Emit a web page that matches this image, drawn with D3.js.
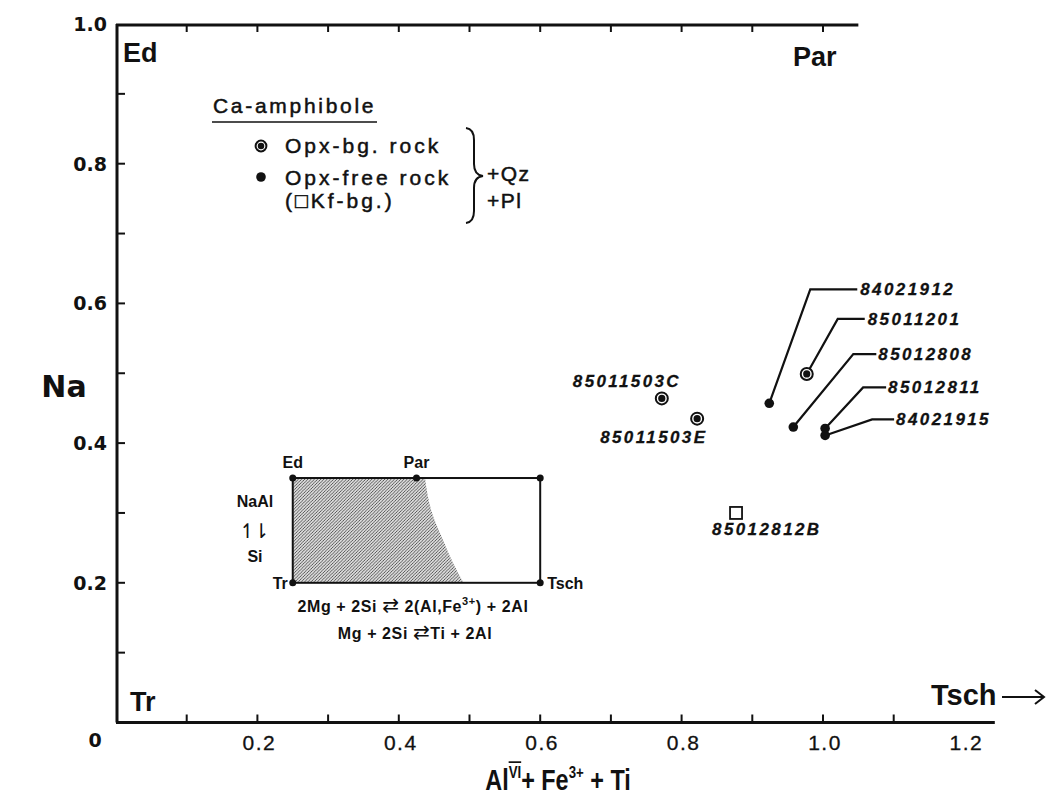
<!DOCTYPE html>
<html>
<head>
<meta charset="utf-8">
<script src="https://cdn.jsdelivr.net/npm/d3@7"></script>
<style>
  body { margin:0; background:#fff; }
  svg text { fill:#111; }
</style>
</head>
<body>
<div id="chart"></div>
<script>
"use strict";

// samples
var sample_ids = ["85011503C","85011503E","84021912","85011201","85012808","85012811","84021915","85012812B"];
var alvi_fe_ti = [0.772, 0.822, 0.924, 0.977, 0.958, 1.003, 1.003, 0.877];
var na_values  = [0.464, 0.435, 0.457, 0.499, 0.423, 0.421, 0.411, 0.300];
var rock_types = ["opx","opx","free","opx","free","free","free","kf"];

var x_tick_labels = [0.2, 0.4, 0.6, 0.8, 1.0, 1.2];
var y_tick_labels = [0.2, 0.4, 0.6, 0.8, 1.0];
var x_minor = [0.1,0.2,0.3,0.4,0.5,0.6,0.7,0.8,0.9,1.0,1.1];
var top_minor = [0.1,0.2,0.3,0.4,0.5,0.6,0.7,0.8,0.9,1.0];
var y_minor = [0.1,0.2,0.3,0.4,0.5,0.6,0.7,0.8,0.9];

// inset (schematic) drawn in the same data space
var inset_x = [0.25, 0.6];
var inset_y = [0.2, 0.35];
var inset_par_x = 0.425;
var shade_edge_x = [0.437, 0.447, 0.4625, 0.4767, 0.4908];
var shade_edge_y = [0.350, 0.300, 0.2613, 0.2284, 0.2012];

var w = 1046, h = 796;

var x = d3.scaleLinear().domain([0, 1]).range([116, 823]);
var y = d3.scaleLinear().domain([0, 1]).range([722.5, 24]);

var svg = d3.select("#chart")
    .append("svg")
    .attr("width", w)
    .attr("height", h);

var defs = svg.append("defs");
var pat = defs.append("pattern")
    .attr("id", "hatch")
    .attr("patternUnits", "userSpaceOnUse")
    .attr("width", 3.2)
    .attr("height", 3.2);
pat.append("rect").attr("width", 3.2).attr("height", 3.2).attr("fill", "#dadada");
pat.append("path")
    .attr("d", "M-0.8,0.8 l1.6,-1.6 M0,3.2 l3.2,-3.2 M2.4,4 l1.6,-1.6")
    .attr("stroke", "#3a3a3a")
    .attr("stroke-width", 0.8);

function draw_axes(){
    var g = svg.append("g");

    // frame
    g.append("line").attr("x1", x(0)).attr("x2", x(1.243)).attr("y1", y(0)).attr("y2", y(0))
        .attr("stroke", "#111").attr("stroke-width", 3);
    g.append("line").attr("x1", x(0)+1).attr("x2", x(0)+1).attr("y1", y(0)).attr("y2", y(1))
        .attr("stroke", "#111").attr("stroke-width", 3);
    g.append("line").attr("x1", x(0)).attr("x2", x(1.05)).attr("y1", y(1)+1).attr("y2", y(1)+1)
        .attr("stroke", "#111").attr("stroke-width", 3);

    // inward ticks
    g.selectAll(".xt").data(x_minor).enter().append("line")
        .attr("x1", function(d){ return x(d); }).attr("x2", function(d){ return x(d); })
        .attr("y1", y(0)).attr("y2", y(0)-8)
        .attr("stroke", "#111").attr("stroke-width", 2);
    g.selectAll(".tt").data(top_minor).enter().append("line")
        .attr("x1", function(d){ return x(d); }).attr("x2", function(d){ return x(d); })
        .attr("y1", y(1)+1).attr("y2", y(1)+8)
        .attr("stroke", "#111").attr("stroke-width", 2);
    g.selectAll(".yt").data(y_minor).enter().append("line")
        .attr("x1", x(0)+1).attr("x2", x(0)+9)
        .attr("y1", function(d){ return y(d); }).attr("y2", function(d){ return y(d); })
        .attr("stroke", "#111").attr("stroke-width", 2);

    // tick labels
    g.selectAll(".xl").data(x_tick_labels).enter().append("text")
        .attr("x", function(d){ return x(d)+2; })
        .attr("y", 750)
        .attr("text-anchor", "middle")
        .style("font-family", "Liberation Sans, Arial, sans-serif")
        .style("font-size", "21px")
        .style("letter-spacing", "1.5px")
        .attr("stroke", "#111").attr("stroke-width", 0.3)
        .text(function(d){ return d.toFixed(1); });
    g.append("text")
        .attr("x", 95).attr("y", 747)
        .attr("text-anchor", "middle")
        .style("font-family", "DejaVu Sans, sans-serif")
        .style("font-weight", "bold")
        .style("font-size", "19px")
        .text("0");
    g.selectAll(".yl").data(y_tick_labels).enter().append("text")
        .attr("x", 107)
        .attr("y", function(d){ return y(d)+7; })
        .attr("text-anchor", "end")
        .style("font-family", "DejaVu Sans, sans-serif")
        .style("font-weight", "bold")
        .style("font-size", "19px")
        .text(function(d){ return d.toFixed(1); });

    // axis titles
    svg.append("text")
        .attr("x", 64).attr("y", 397)
        .attr("text-anchor", "middle")
        .style("font-family", "DejaVu Sans, sans-serif")
        .style("font-weight", "bold")
        .style("font-size", "30px")
        .text("Na");

    // condensed title, squeezed around its centre
    var xt = svg.append("text")
        .attr("x", 0).attr("y", 0)
        .attr("text-anchor", "middle")
        .attr("transform", "translate(558,790) scale(0.78,1)")
        .style("font-family", "Liberation Sans, sans-serif")
        .style("font-weight", "bold")
        .style("font-size", "30px");
    xt.append("tspan").text("Al");
    xt.append("tspan").attr("dy", -12).style("font-size", "17px")
        .attr("text-decoration", "overline").text("VI");
    xt.append("tspan").attr("dy", 12).text("+ Fe");
    xt.append("tspan").attr("dy", -12).style("font-size", "17px").text("3+");
    xt.append("tspan").attr("dy", 12).text(" + Ti");

    // end-member corners
    var corner = [["Ed", 123, 62], ["Par", 793, 66], ["Tr", 130, 711]];
    corner.forEach(function(c){
        svg.append("text")
            .attr("x", c[1]).attr("y", c[2])
            .style("font-family", "Liberation Sans, Arial, sans-serif")
            .style("font-weight", "bold")
            .style("font-size", "27px")
            .text(c[0]);
    });
    svg.append("text")
        .attr("x", 931).attr("y", 705)
        .style("font-family", "Liberation Sans, Arial, sans-serif")
        .style("font-weight", "bold")
        .style("font-size", "29px")
        .text("Tsch");
    svg.append("line").attr("x1", 1002).attr("x2", 1044).attr("y1", 697).attr("y2", 697)
        .attr("stroke", "#111").attr("stroke-width", 2);
    svg.append("path").attr("d", "M1035,690 L1044,697 L1035,704")
        .attr("fill", "none").attr("stroke", "#111").attr("stroke-width", 2);
}

function draw_symbol(g, type, cx, cy, big){
    var k = big ? 1 : 0.9;
    if(type == "opx"){
        g.append("circle").attr("cx", cx).attr("cy", cy).attr("r", 6*k)
            .attr("fill", "#fff").attr("stroke", "#111").attr("stroke-width", 2);
        g.append("circle").attr("cx", cx).attr("cy", cy).attr("r", 3.6*k).attr("fill", "#111");
    }
    else if(type == "free"){
        g.append("circle").attr("cx", cx).attr("cy", cy).attr("r", 4.8*k).attr("fill", "#111");
    }
    else {
        g.append("rect").attr("x", cx-6).attr("y", cy-6).attr("width", 12).attr("height", 12)
            .attr("fill", "#fff").attr("stroke", "#111").attr("stroke-width", 1.8);
    }
}

function draw_legend(){
    var g = svg.append("g");
    var f = "Liberation Sans, Arial, sans-serif";
    g.append("text").attr("x", 213).attr("y", 113)
        .style("font-family", f).style("font-size", "21px").style("letter-spacing", "2.7px")
        .attr("stroke", "#111").attr("stroke-width", 0.5)
        .text("Ca-amphibole");
    g.append("line").attr("x1", 212).attr("x2", 377).attr("y1", 122).attr("y2", 122)
        .attr("stroke", "#111").attr("stroke-width", 1.5);

    draw_symbol(g, "opx", 261, 146, false);
    draw_symbol(g, "free", 261, 177, true);

    var rows = [["Opx-bg. rock", 153], ["Opx-free rock", 185], ["(\u25A1Kf-bg.)", 208]];
    rows.forEach(function(r){
        g.append("text").attr("x", 285).attr("y", r[1])
            .style("font-family", f).style("font-size", "21px").style("letter-spacing", "3px")
            .attr("stroke", "#111").attr("stroke-width", 0.5)
            .text(r[0]);
    });

    g.append("path")
        .attr("d", "M466,128 Q474,129 474,140 L474,164 Q474,175 483,176 Q474,177 474,188 L474,211 Q474,222 466,223")
        .attr("fill", "none").attr("stroke", "#111").attr("stroke-width", 2);

    g.append("text").attr("x", 487).attr("y", 181)
        .style("font-family", f).style("font-size", "21px").style("letter-spacing", "1.5px")
        .attr("stroke", "#111").attr("stroke-width", 0.5).text("+Qz");
    g.append("text").attr("x", 487).attr("y", 208)
        .style("font-family", f).style("font-size", "21px").style("letter-spacing", "1.5px")
        .attr("stroke", "#111").attr("stroke-width", 0.5).text("+Pl");
}

function draw_inset(){
    var g = svg.append("g");
    var f = "Liberation Sans, Arial, sans-serif";

    var edge = shade_edge_x.map(function(d, i){ return [x(d), y(shade_edge_y[i])]; });
    var curve = d3.line().curve(d3.curveMonotoneY)(edge);
    var shade = "M" + x(inset_x[0]) + "," + y(inset_y[1]) + " L" + curve.slice(1) +
        " L" + x(inset_x[0]) + "," + y(inset_y[0]) + " Z";
    g.append("path").attr("d", shade).attr("fill", "url(#hatch)");

    g.append("rect")
        .attr("x", x(inset_x[0])).attr("y", y(inset_y[1]))
        .attr("width", x(inset_x[1]) - x(inset_x[0]))
        .attr("height", y(inset_y[0]) - y(inset_y[1]))
        .attr("fill", "none").attr("stroke", "#111").attr("stroke-width", 2);

    var pts = [[inset_x[0], inset_y[1]], [inset_par_x, inset_y[1]], [inset_x[1], inset_y[1]],
               [inset_x[0], inset_y[0]], [inset_x[1], inset_y[0]]];
    g.selectAll(".ic").data(pts).enter().append("circle")
        .attr("cx", function(d){ return x(d[0]); })
        .attr("cy", function(d){ return y(d[1]); })
        .attr("r", 3.5).attr("fill", "#111");

    function lab(t, px, py, anchor, size){
        return g.append("text").attr("x", px).attr("y", py)
            .attr("text-anchor", anchor || "middle")
            .style("font-family", f).style("font-weight", "bold")
            .style("font-size", (size || 16) + "px")
            .text(t);
    }
    lab("Ed", x(inset_x[0]), y(inset_y[1]) - 10);
    lab("Par", x(inset_par_x), y(inset_y[1]) - 10);
    lab("Tr", x(inset_x[0]) - 5, y(inset_y[0]) + 6, "end");
    lab("Tsch", x(inset_x[1]) + 7, y(inset_y[0]) + 6, "start");
    lab("NaAl", 255, 507);
    lab("\u21BF\u21C2", 253, 538, "middle", 20).style("font-family", "DejaVu Sans, sans-serif")
        .style("font-weight", "normal").style("letter-spacing", "-3px");
    lab("Si", 255, 562);

    var eq1 = g.append("text").attr("x", 413).attr("y", 612)
        .attr("text-anchor", "middle")
        .style("font-family", f).style("font-weight", "bold").style("font-size", "16px")
        .style("letter-spacing", "0.6px");
    eq1.append("tspan").text("2Mg + 2Si ");
    eq1.append("tspan").style("font-family", "DejaVu Sans, sans-serif").style("font-weight", "normal")
        .style("font-size", "20px").text("\u21C4");
    eq1.append("tspan").text(" 2(Al,Fe");
    eq1.append("tspan").attr("dy", -7).style("font-size", "11px").text("3+");
    eq1.append("tspan").attr("dy", 7).text(") + 2Al");

    var eq2 = g.append("text").attr("x", 415).attr("y", 639)
        .attr("text-anchor", "middle")
        .style("font-family", f).style("font-weight", "bold").style("font-size", "16px")
        .style("letter-spacing", "0.6px");
    eq2.append("tspan").text("Mg + 2Si ");
    eq2.append("tspan").style("font-family", "DejaVu Sans, sans-serif").style("font-weight", "normal")
        .style("font-size", "20px").text("\u21C4");
    eq2.append("tspan").text("Ti + 2Al");
}

// label placement (pixel offsets from the point), leader elbow where used
var callout = {
    "85011503C": {lx: -89, ly: -11},
    "85011503E": {lx: -97, ly: 24},
    "85012812B": {lx: -24, ly: 22},
    "84021912":  {ex: 41, ey: -114, hx: 47, lx: 50},
    "85011201":  {ex: 31, ey: -55,  hx: 27, lx: 30},
    "85012808":  {ex: 60, ey: -73,  hx: 23, lx: 25},
    "85012811":  {ex: 38, ey: -41,  hx: 23, lx: 25},
    "84021915":  {ex: 47, ey: -16,  hx: 22, lx: 24}
};

function draw_samples(){
    var g = svg.append("g");
    var lines = g.append("g");
    var f = "Liberation Sans, Arial, sans-serif";

    sample_ids.forEach(function(id, i){
        var px = x(alvi_fe_ti[i]), py = y(na_values[i]);
        var c = callout[id];
        var tx, ty;
        if(c.ex !== undefined){
            var ex = px + c.ex, ey = py + c.ey;
            lines.append("path")
                .attr("d", "M" + px + "," + py + " L" + ex + "," + ey + " L" + (ex + c.hx) + "," + ey)
                .attr("fill", "none").attr("stroke", "#111").attr("stroke-width", 2.2);
            tx = ex + c.lx; ty = ey + 6;
        }
        else {
            tx = px + c.lx; ty = py + c.ly;
        }
        g.append("text").attr("x", tx).attr("y", ty)
            .style("font-family", f).style("font-weight", "bold").style("font-style", "italic")
            .style("font-size", "17px").style("letter-spacing", "2.4px")
            .attr("stroke", "#111").attr("stroke-width", 0.3)
            .text(id);
        draw_symbol(g, rock_types[i], px, py, true);
    });
}

draw_inset();
draw_axes();
draw_legend();
draw_samples();
</script>
</body>
</html>
